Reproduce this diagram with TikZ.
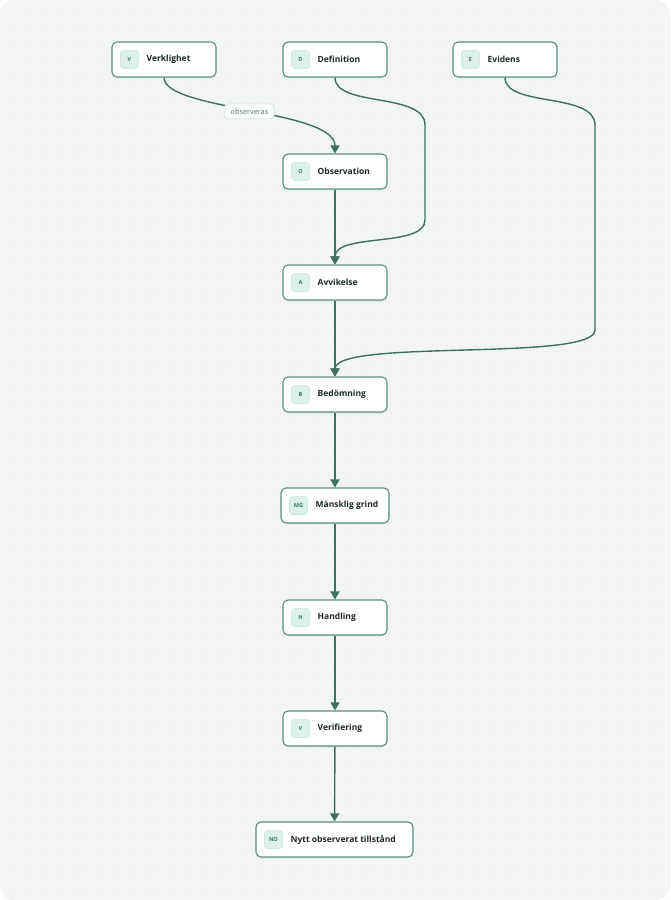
\documentclass[tikz,border=0pt]{standalone}
\usepackage{fontspec}
\setmainfont{Open Sans}
\usetikzlibrary{arrows.meta,calc,shadows}
\definecolor{bgc}{HTML}{F3F5F4}
\definecolor{dotc}{HTML}{DCE2DF}
\definecolor{boxborder}{HTML}{5E8C81}
\definecolor{edgec}{HTML}{3F6E63}
\definecolor{badgefill}{HTML}{DDF1EA}
\definecolor{badgeborder}{HTML}{C3E3D8}
\definecolor{badgetext}{HTML}{2F7A66}
\definecolor{labeltext}{HTML}{1E2A27}
\definecolor{edgelabeltext}{HTML}{5F7A73}
\definecolor{edgelabelborder}{HTML}{CFE0DA}
\tikzset{
  x=1pt, y=-1pt,
  stepbox/.style={draw=boxborder, line width=1.1pt, fill=white, rounded corners=5pt,
     minimum height=35pt, inner sep=0pt,
     drop shadow={opacity=0.07, shadow xshift=0pt, shadow yshift=-1.8pt}},
  badge/.style={draw=badgeborder, line width=0.5pt, fill=badgefill, rounded corners=3pt,
     minimum width=18pt, minimum height=18pt, inner sep=0pt,
     font=\fontsize{5.5}{6}\selectfont\bfseries, text=badgetext},
  lbl/.style={anchor=west, inner sep=0pt, font=\fontsize{8.5}{10}\selectfont\bfseries, text=labeltext},
  flow/.style={draw=edgec, line width=1.4pt, -{Triangle[length=8pt,width=9pt]}},
  elabel/.style={draw=edgelabelborder, line width=0.6pt, fill=bgc!50!white, rounded corners=3pt,
     minimum width=49pt, minimum height=15pt, inner sep=0pt,
     font=\fontsize{7.3}{8}\selectfont, text=edgelabeltext}
}
\newcommand{\stepnode}[6]{% name, x, y, width, badge text, label
  \node[stepbox, minimum width=#4pt] (#1) at (#2,#3) {};
  \node[badge] (#1b) at ($(#1.west)+(18,0)$) {#5};
  \node[lbl] (#1l) at ($(#1.west)+(35,0)$) {#6};
}
\begin{document}
\begin{tikzpicture}
\useasboundingbox (0,0) rectangle (670,900);
\fill[white] (0,0) rectangle (670,900);
\fill[bgc] (0,0) [rounded corners=14pt] rectangle (670,900);
\foreach \i in {0,...,46} {
  \foreach \j in {0,...,62} {
    \fill[dotc] ({15+14.4*\i},{15+14.4*\j}) circle (0.7pt);
  }
}
\stepnode{ver}{164}{59.5}{104}{V}{Verklighet}
\stepnode{def}{335}{59.5}{104}{D}{Definition}
\stepnode{evi}{505}{59.5}{104}{E}{Evidens}
\stepnode{obs}{335}{171.5}{104}{O}{Observation}
\stepnode{avv}{335}{282.5}{104}{A}{Avvikelse}
\stepnode{bed}{335}{394.5}{104}{B}{Bedömning}
\stepnode{mg}{335}{505.5}{108}{MG}{Mänsklig grind}
\stepnode{han}{335}{617.5}{104}{H}{Handling}
\stepnode{vfy}{335}{728.5}{104}{V}{Verifiering}
\stepnode{nyt}{334.5}{839.5}{157}{NO}{Nytt observerat tillstånd}

\draw[flow] (ver.south) .. controls ($(ver.south)+(0,33)$) and ($(obs.north)+(0,-44)$) .. (obs.north)
  node[pos=0.5, elabel] (obsl) {observeras};
\draw[flow] (def.south) .. controls ($(def.south)+(0,30)$) and (425,92) .. (425,125)
  -- (425,220) .. controls (425,248) and ($(avv.north)+(0,-32)$) .. (avv.north);
\draw[flow] (evi.south) .. controls ($(evi.south)+(0,30)$) and (595,92) .. (595,125)
  -- (595,330) .. controls (595,362) and ($(bed.north)+(0,-38)$) .. (bed.north);
\draw[flow] (obs) -- (avv);
\draw[flow] (avv) -- (bed);
\draw[flow] (bed) -- (mg);
\draw[flow] (mg) -- (han);
\draw[flow] (han) -- (vfy);
\draw[flow] (vfy) -- (nyt);
\end{tikzpicture}
\end{document}
